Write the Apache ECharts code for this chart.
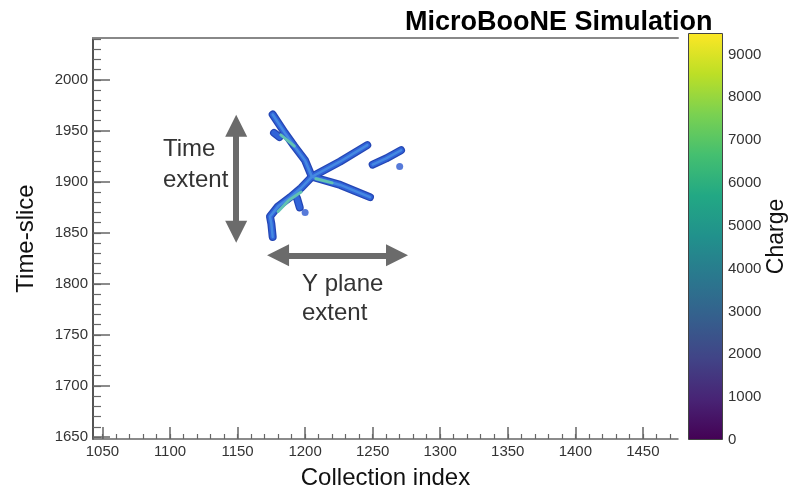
<!DOCTYPE html>
<html>
<head>
<meta charset="utf-8">
<script src="https://cdn.jsdelivr.net/npm/echarts@6/dist/echarts.min.js"></script>
<style>
  html, body { margin: 0; padding: 0; background: #fff; }
  #chart { width: 789px; height: 488px; }
</style>
</head>
<body>
<div id="chart"></div>
<script>
// axis ranges (Collection index / Time-slice / Charge)
var xRange = [1043, 1476];
var yRange = [1648, 2041];
var chargeRange = [0, 9500];

// tick values
var xMajor = [1050, 1100, 1150, 1200, 1250, 1300, 1350, 1400, 1450];
var yMajor = [1650, 1700, 1750, 1800, 1850, 1900, 1950, 2000];
var chargeTicks = [0, 1000, 2000, 3000, 4000, 5000, 6000, 7000, 8000, 9000];
var xMinor = [];
for (var v = 1050; v <= 1470; v += 10) xMinor.push(v);
var yMinor = [];
for (var w = 1650; w <= 2040; w += 10) yMinor.push(w);

var trackA = [[1176, 1966], [1185, 1948], [1192, 1935], [1200, 1921], [1205, 1905]];
var trackSpur = [[1177, 1948], [1181, 1944]];
var trackB = [[1205, 1905], [1226, 1920], [1246, 1936]];
var trackC = [[1205, 1905], [1226, 1897], [1248, 1885]];
var trackD = [[1205, 1905], [1197, 1894], [1189, 1885], [1180, 1876], [1174, 1866], [1175, 1859], [1176, 1846]];
var trackE = [[1250, 1917], [1260, 1923], [1271, 1931]];
var strayBlob = [[1194, 1884], [1196, 1875]];
var strayDots = [[1200, 1870], [1270, 1915]];
// brighter (higher charge) cores
var coreA = [[1182, 1946], [1192, 1935]];
var coreD = [[1180, 1871], [1188, 1882], [1197, 1890]];
var coreC = [[1208, 1903], [1220, 1899]];

// annotation arrows, data coords of the head centres
var timeArrow = [[1149, 1955], [1149, 1851]];
var planeArrow = [[1180, 1828], [1268, 1828]];

var viridis = ['#440154', '#482475', '#414487', '#355f8d', '#2a788e', '#21918c', '#22a884', '#44bf70', '#7ad151', '#bddf26', '#fde725'];

var myChart = echarts.init(document.getElementById('chart'));
var font = '"Liberation Sans", Arial, sans-serif';
var axisGrey = '#666';

function plain(v) {
	return String(v);
}

function trackSeries(data, width, color) {
	return {
		type: 'line',
		xAxisIndex: 0,
		yAxisIndex: 0,
		data: data,
		symbol: 'none',
		silent: true,
		lineStyle: { width: width, color: color, cap: 'round', join: 'round' },
		z: 3
	};
}

var series = [];
// dark rim, blue body, lighter middle, teal core
[trackA, trackSpur, trackB, trackC, trackD, trackE, strayBlob].forEach(function (t) {
	series.push(trackSeries(t, 8, '#2446b4'));
});
[trackA, trackSpur, trackB, trackC, trackD, trackE, strayBlob].forEach(function (t) {
	series.push(trackSeries(t, 5.5, '#3163d8'));
});
[trackA, trackB, trackC, trackD, trackE].forEach(function (t) {
	series.push(trackSeries(t, 2.5, '#4589e2'));
});
[coreA, coreD, coreC].forEach(function (t) {
	series.push(trackSeries(t, 3, '#62c2b2'));
});
series.push({
	type: 'scatter',
	xAxisIndex: 0,
	yAxisIndex: 0,
	data: strayDots,
	symbolSize: 7,
	itemStyle: { color: '#2d59d0' },
	z: 3
});
// arrows
series.push({
	type: 'line',
	xAxisIndex: 0,
	yAxisIndex: 0,
	data: [],
	markLine: {
		silent: true,
		symbol: ['triangle', 'triangle'],
		symbolSize: 22,
		label: { show: false },
		lineStyle: { type: 'solid', color: '#6b6b6b', width: 6 },
		data: [
			[{ coord: timeArrow[0] }, { coord: timeArrow[1] }],
			[{ coord: planeArrow[0] }, { coord: planeArrow[1] }]
		]
	}
});
// colour bar
series.push({
	type: 'bar',
	xAxisIndex: 3,
	yAxisIndex: 2,
	data: [chargeRange[1]],
	barWidth: '100%',
	silent: true,
	itemStyle: {
		borderColor: '#444',
		borderWidth: 1,
		color: new echarts.graphic.LinearGradient(0, 1, 0, 0, viridis.map(function (c, i) {
			return { offset: i / (viridis.length - 1), color: c };
		}))
	}
});

var option = {
	animation: false,
	backgroundColor: '#fff',
	textStyle: { fontFamily: font },
	title: {
		text: 'MicroBooNE Simulation',
		left: 405,
		top: 9,
		padding: 0,
		textStyle: { fontFamily: font, fontSize: 27, fontWeight: 'bold', color: '#000' }
	},
	grid: [
		{ left: 93, top: 38, width: 585, height: 401, outerBoundsMode: 'none', containLabel: false },
		{ left: 93, top: 38, width: 585, height: 401, outerBoundsMode: 'none', containLabel: false },
		{ left: 688, top: 33, width: 35, height: 407, outerBoundsMode: 'none', containLabel: false }
	],
	xAxis: [
		{
			type: 'value', gridIndex: 0, position: 'bottom',
			min: xRange[0], max: xRange[1],
			name: 'Collection index', nameLocation: 'middle', nameGap: 27,
			nameTextStyle: { fontFamily: font, fontSize: 24, color: '#111' },
			axisLine: { lineStyle: { color: axisGrey, width: 1.5 } },
			axisTick: { inside: true, length: 12, customValues: xMajor, lineStyle: { color: axisGrey, width: 1.5 } },
			axisLabel: { customValues: xMajor, formatter: plain, fontSize: 15, color: '#333', margin: 5 },
			splitLine: { show: false }
		},
		{
			type: 'value', gridIndex: 0, position: 'top',
			min: xRange[0], max: xRange[1],
			axisLine: { lineStyle: { color: '#888', width: 2 } },
			axisTick: { show: false }, axisLabel: { show: false }, splitLine: { show: false }
		},
		{
			type: 'value', gridIndex: 1, position: 'bottom',
			min: xRange[0], max: xRange[1],
			axisLine: { show: false },
			axisTick: { inside: true, length: 5, customValues: xMinor, lineStyle: { color: axisGrey, width: 1.2 } },
			axisLabel: { show: false }, splitLine: { show: false }
		},
		{
			type: 'category', gridIndex: 2, data: ['c'], show: false
		}
	],
	yAxis: [
		{
			type: 'value', gridIndex: 0, position: 'left',
			min: yRange[0], max: yRange[1],
			name: 'Time-slice', nameLocation: 'middle', nameGap: 55, nameRotate: 90,
			nameTextStyle: { fontFamily: font, fontSize: 24, color: '#111' },
			axisLine: { lineStyle: { color: '#555', width: 2 } },
			axisTick: { inside: true, length: 17, customValues: yMajor, lineStyle: { color: axisGrey, width: 1.5 } },
			axisLabel: { customValues: yMajor, formatter: plain, fontSize: 15, color: '#333', margin: 5 },
			splitLine: { show: false }
		},
		{
			type: 'value', gridIndex: 1, position: 'left',
			min: yRange[0], max: yRange[1],
			axisLine: { show: false },
			axisTick: { inside: true, length: 8, customValues: yMinor, lineStyle: { color: axisGrey, width: 1.2 } },
			axisLabel: { show: false }, splitLine: { show: false }
		},
		{
			type: 'value', gridIndex: 2, position: 'right',
			min: chargeRange[0], max: chargeRange[1],
			name: 'Charge', nameLocation: 'middle', nameGap: 42, nameRotate: 90,
			nameTextStyle: { fontFamily: font, fontSize: 23, color: '#111' },
			axisLine: { show: false },
			axisTick: { show: false },
			axisLabel: { customValues: chargeTicks, formatter: plain, fontSize: 15, color: '#333', margin: 5 },
			splitLine: { show: false }
		}
	],
	graphic: [
		{ type: 'text', left: 163, top: 137, style: { text: 'Time', font: '24px ' + font, fill: '#333' } },
		{ type: 'text', left: 163, top: 168, style: { text: 'extent', font: '24px ' + font, fill: '#333' } },
		{ type: 'text', left: 302, top: 272, style: { text: 'Y plane', font: '24px ' + font, fill: '#333' } },
		{ type: 'text', left: 302, top: 301, style: { text: 'extent', font: '24px ' + font, fill: '#333' } }
	],
	series: series
};

if (option && typeof option === "object") {
	myChart.setOption(option, true);
}
</script>
</body>
</html>
